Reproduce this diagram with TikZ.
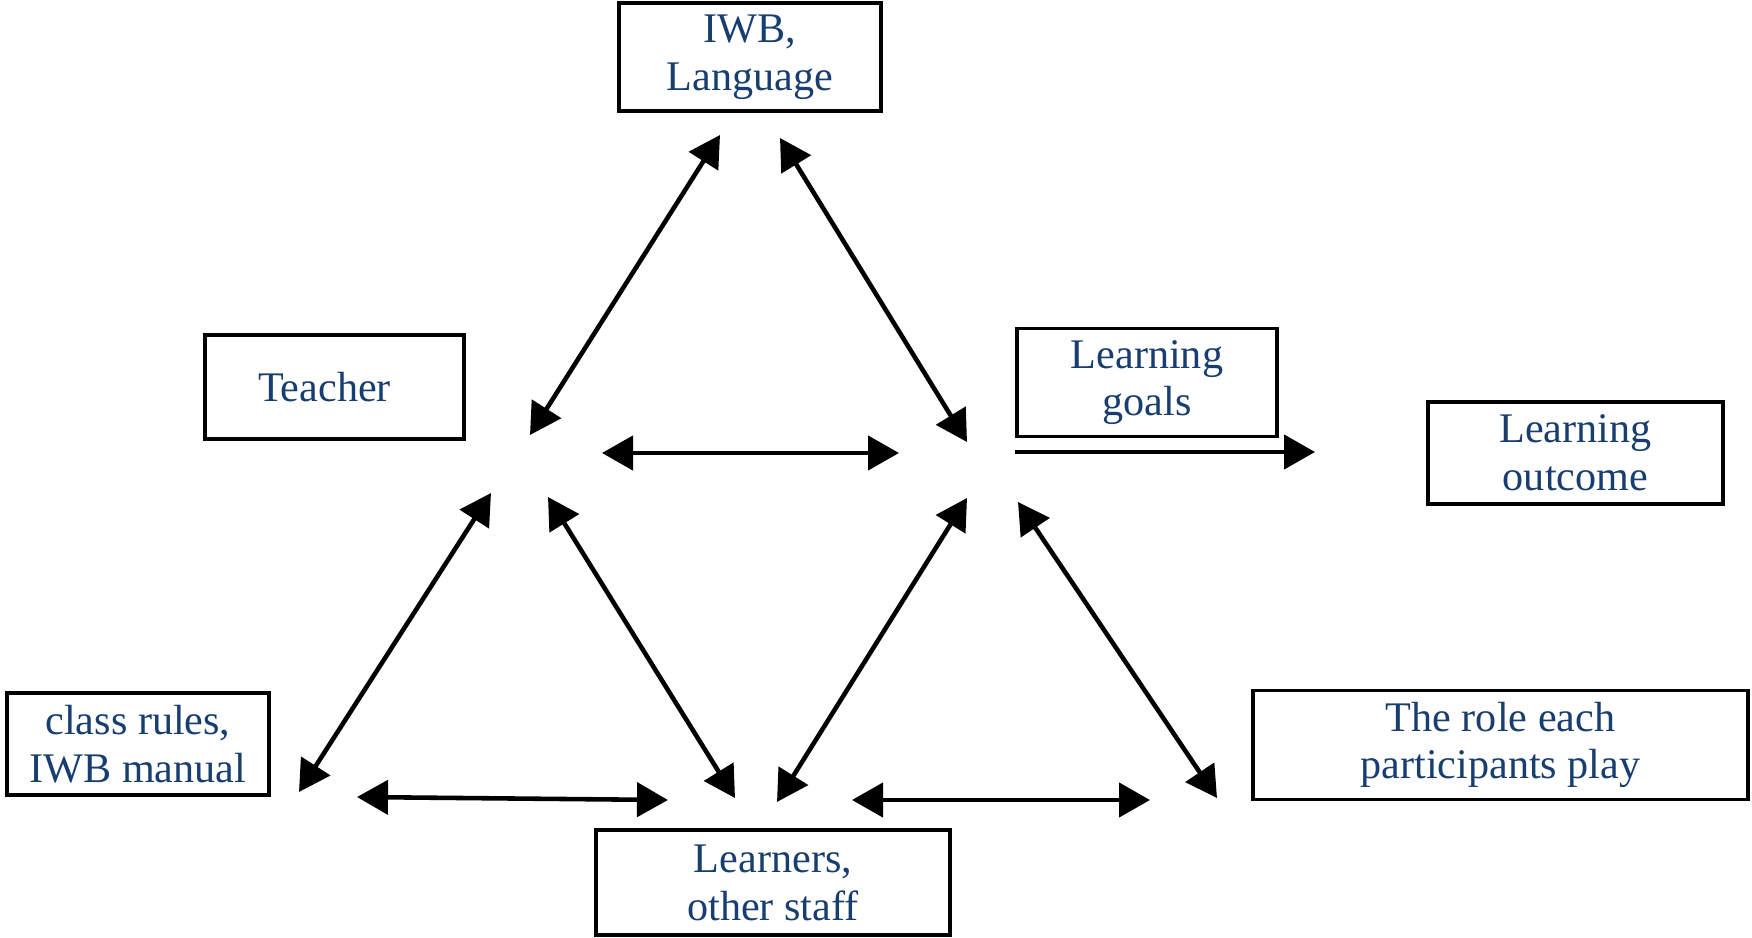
\documentclass[tikz,border=0pt]{standalone}
\usepackage{fontspec}
\setmainfont{Liberation Serif}
\usepackage{xcolor}
\usepackage{tikz}
\usetikzlibrary{arrows.meta, positioning}
\definecolor{labeltext}{RGB}{24,62,112}
\tikzset{
    box/.style={rectangle, draw, line width=0.9pt, text centered, align=center, text=labeltext, font=\fontsize{12}{13.6}\selectfont},
    link/.style={{Triangle[length=0.31cm, width=0.34cm]}-{Triangle[length=0.31cm, width=0.34cm]}, line width=1.3pt},
    flow/.style={-{Triangle[length=0.31cm, width=0.34cm]}, line width=1.3pt}
}
\begin{document}
\begin{tikzpicture}
    \useasboundingbox (0,0) rectangle (17.52,9.37);

    % Boxes
    \node[box, minimum width=2.62cm, minimum height=1.04cm] (iwb) at (7.50,8.80) {IWB,\\ Language};
    \node[box, minimum width=2.59cm, minimum height=1.04cm] (teacher) at (3.345,5.50) {Teacher\hspace*{0.2cm}};
    \node[box, minimum width=2.60cm, minimum height=1.05cm] (goals) at (11.47,5.545) {Learning\\ goals};
    \node[box, minimum width=2.95cm, minimum height=1.02cm] (outcome) at (15.755,4.84) {Learning\\ outcome};
    \node[box, minimum width=2.62cm, minimum height=1.02cm] (rules) at (1.38,1.93) {class rules,\\ IWB manual};
    \node[box, minimum width=3.54cm, minimum height=1.05cm] (learners) at (7.73,0.545) {Learners,\\ other staff};
    \node[box, minimum width=4.95cm, minimum height=1.04cm] (role) at (15.005,1.92) {The role each\\ participants play};

    % Arrow ends round the three triangles
    \coordinate (top_l) at (7.20,8.02);
    \coordinate (top_r) at (7.80,7.99);
    \coordinate (midl_up) at (5.30,5.02);
    \coordinate (midl_rt) at (6.02,4.84);
    \coordinate (midl_dl) at (4.91,4.44);
    \coordinate (midl_dr) at (5.48,4.40);
    \coordinate (midr_up) at (9.67,4.95);
    \coordinate (midr_lt) at (8.99,4.84);
    \coordinate (midr_out) at (10.15,4.85);
    \coordinate (midr_dl) at (9.67,4.39);
    \coordinate (midr_dr) at (10.18,4.35);
    \coordinate (out_in) at (13.15,4.85);
    \coordinate (botl_up) at (2.99,1.45);
    \coordinate (botl_rt) at (3.57,1.40);
    \coordinate (botm_lt) at (6.68,1.37);
    \coordinate (botm_ul) at (7.35,1.39);
    \coordinate (botm_ur) at (7.77,1.35);
    \coordinate (botm_rt) at (8.52,1.37);
    \coordinate (botr_lt) at (11.50,1.37);
    \coordinate (botr_up) at (12.17,1.39);

    % Upper triangle
    \draw[link] (top_l) -- (midl_up);
    \draw[link] (top_r) -- (midr_up);
    \draw[link] (midl_rt) -- (midr_lt);

    % Lower left triangle
    \draw[link] (midl_dl) -- (botl_up);
    \draw[link] (midl_dr) -- (botm_ul);
    \draw[link] (botl_rt) -- (botm_lt);

    % Lower right triangle
    \draw[link] (midr_dl) -- (botm_ur);
    \draw[link] (midr_dr) -- (botr_up);
    \draw[link] (botm_rt) -- (botr_lt);

    % Outcome
    \draw[flow] (midr_out) -- (out_in);
\end{tikzpicture}
\end{document}
